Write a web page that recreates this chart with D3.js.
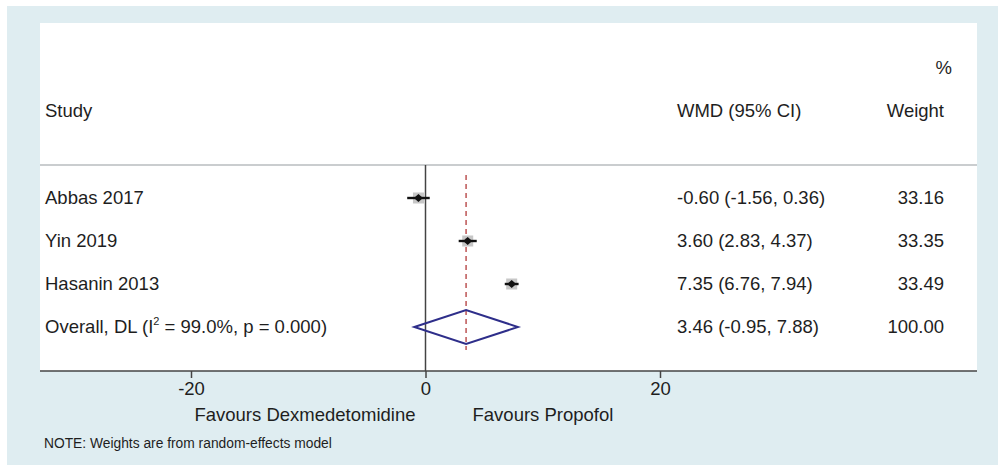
<!DOCTYPE html>
<head>
  <meta charset="utf-8">
  <style>
    body { margin: 0; background: #fff; }
    text { font-family: "Liberation Sans", Arial, sans-serif; fill: #1e1e1e; }
  </style>
</head>
<body>
<div id="chart"></div>
<script src="https://cdn.jsdelivr.net/npm/d3@7"></script>
<script>
// study rows
var studies = ["Abbas 2017", "Yin 2019", "Hasanin 2013"];
var wmd = [-0.60, 3.60, 7.35];
var lower = [-1.56, 2.83, 6.76];
var upper = [0.36, 4.37, 7.94];
var weights = ["33.16", "33.35", "33.49"];

// pooled estimate
var overallEst = 3.46, overallLo = -0.95, overallHi = 7.88;
var overallWeight = "100.00";

var xTicks = [-20, 0, 20];

var width = 998, height = 465;
var fs = "18.5px";

var svg = d3.select("#chart").append("svg")
  .attr("width", width)
  .attr("height", height);

// backgrounds
svg.append("rect").attr("x", 7).attr("y", 6).attr("width", width - 7).attr("height", height - 6)
  .attr("fill", "#dfedf1");
svg.append("rect").attr("x", 40).attr("y", 23).attr("width", 937).attr("height", 348)
  .attr("fill", "#fff");

var x = d3.scaleLinear().domain([-20, 20]).range([191, 660]);
var y = d3.scalePoint().domain([0, 1, 2, 3]).range([198, 327]);
var axisY = 371;

// plain hyphen for negatives, like the original
function fmt(v) { return v.toFixed(2); }

// header
svg.append("text").text("%").attr("x", 952).attr("y", 74).attr("text-anchor", "end").style("font-size", fs);
svg.append("text").text("Study").attr("x", 45).attr("y", 117).style("font-size", fs);
svg.append("text").text("WMD (95% CI)").attr("x", 677).attr("y", 117).style("font-size", fs);
svg.append("text").text("Weight").attr("x", 944).attr("y", 117).attr("text-anchor", "end").style("font-size", fs);

svg.append("line").attr("x1", 40).attr("x2", 977).attr("y1", 165).attr("y2", 165)
  .attr("stroke", "#b8bcbf").attr("stroke-width", 1.5);

// zero line
svg.append("line").attr("x1", x(0)).attr("x2", x(0)).attr("y1", 165).attr("y2", axisY)
  .attr("stroke", "#444").attr("stroke-width", 1.5);

// overall dashed line
svg.append("line").attr("x1", x(overallEst)).attr("x2", x(overallEst)).attr("y1", 175).attr("y2", 350)
  .attr("stroke", "#b23a3a").attr("stroke-width", 1.3).attr("stroke-dasharray", "5,4");

// study rows
studies.forEach(function(s, i) {
  var cy = y(i);
  svg.append("text").text(s).attr("x", 45).attr("y", cy + 6).style("font-size", fs);
  svg.append("text").text(fmt(wmd[i]) + " (" + fmt(lower[i]) + ", " + fmt(upper[i]) + ")")
    .attr("x", 677).attr("y", cy + 6).style("font-size", fs);
  svg.append("text").text(weights[i]).attr("x", 944).attr("y", cy + 6)
    .attr("text-anchor", "end").style("font-size", fs);

  // weight box
  svg.append("rect").attr("x", x(wmd[i]) - 5.5).attr("y", cy - 5.5).attr("width", 11).attr("height", 11)
    .attr("fill", "#b4b4b4").attr("opacity", 0.75);
  svg.append("line").attr("x1", x(lower[i])).attr("x2", x(upper[i])).attr("y1", cy).attr("y2", cy)
    .attr("stroke", "#111").attr("stroke-width", 2.4);
  svg.append("path")
    .attr("d", "M" + (x(wmd[i]) - 4.5) + "," + cy + "L" + x(wmd[i]) + "," + (cy - 4) +
      "L" + (x(wmd[i]) + 4.5) + "," + cy + "L" + x(wmd[i]) + "," + (cy + 4) + "Z")
    .attr("fill", "#111");
});

// overall row
var oy = y(3);
var ot = svg.append("text").attr("x", 45).attr("y", oy + 6).style("font-size", fs);
ot.append("tspan").text("Overall, DL (I");
ot.append("tspan").text("2").attr("dy", -8).style("font-size", "11px");
ot.append("tspan").text(" = 99.0%, p = 0.000)").attr("dy", 8);
svg.append("text").text(fmt(overallEst) + " (" + fmt(overallLo) + ", " + fmt(overallHi) + ")")
  .attr("x", 677).attr("y", oy + 6).style("font-size", fs);
svg.append("text").text(overallWeight).attr("x", 944).attr("y", oy + 6)
  .attr("text-anchor", "end").style("font-size", fs);

svg.append("path")
  .attr("d", "M" + x(overallLo) + "," + oy + "L" + x(overallEst) + "," + (oy - 17) +
    "L" + x(overallHi) + "," + oy + "L" + x(overallEst) + "," + (oy + 17) + "Z")
  .attr("fill", "none").attr("stroke", "#2e2e8a").attr("stroke-width", 2);

// x axis
svg.append("line").attr("x1", 40).attr("x2", 977).attr("y1", axisY).attr("y2", axisY)
  .attr("stroke", "#444").attr("stroke-width", 1.5);
var axis = svg.append("g").attr("transform", "translate(0," + axisY + ")")
  .call(d3.axisBottom(x).tickValues(xTicks).tickSize(7).tickPadding(4)
    .tickFormat(function(d) { return String(d); }));
axis.select(".domain").remove();
axis.selectAll(".tick line").attr("stroke", "#444").attr("stroke-width", 1.5);
axis.selectAll(".tick text").style("font-size", fs).attr("fill", "#1e1e1e")
  .style("font-family", "'Liberation Sans', Arial, sans-serif");

svg.append("text").text("Favours Dexmedetomidine").attr("x", x(0) - 10).attr("y", 421)
  .attr("text-anchor", "end").style("font-size", fs);
svg.append("text").text("Favours Propofol").attr("x", x(0) + 47).attr("y", 421)
  .style("font-size", fs);

svg.append("text").text("NOTE: Weights are from random-effects model").attr("x", 44).attr("y", 448)
  .style("font-size", "13.8px");
</script>
</body>
